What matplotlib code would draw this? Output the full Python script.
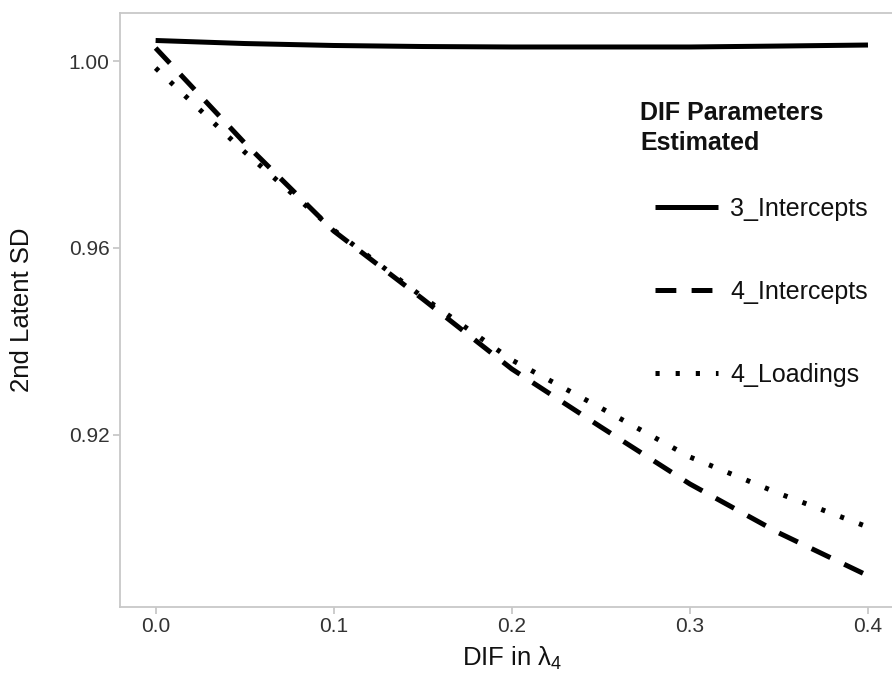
import matplotlib
matplotlib.use("Agg")
import matplotlib.pyplot as plt

plt.rcParams['font.family'] = ['Liberation Sans', 'DejaVu Sans']
plt.rcParams['lines.scale_dashes'] = False

dif = [0.0, 0.05, 0.10, 0.15, 0.20, 0.25, 0.30, 0.35, 0.40]
intercepts3 = [1.00439, 1.00374, 1.00332, 1.00310, 1.00300, 1.00300, 1.00300, 1.00320, 1.00342]
intercepts4 = [1.00278, 0.98246, 0.96364, 0.94909, 0.93412, 0.92171, 0.90952, 0.89904, 0.88990]
loadings4 = [0.99850, 0.98053, 0.96385, 0.94950, 0.93604, 0.92578, 0.91529, 0.90749, 0.90030]
series_labels = ['3_Intercepts', '4_Intercepts', '4_Loadings']
legend_title = 'DIF Parameters\nEstimated'
xticks = [0.0, 0.1, 0.2, 0.3, 0.4]
yticks = [0.92, 0.96, 1.00]

W, H = 892, 675
fig = plt.figure(figsize=(W / 100, H / 100), dpi=100)
left, right, top, bottom = 120, 903.6, 13, 607
ax = fig.add_axes([left / W, 1 - bottom / H, (right - left) / W, (bottom - top) / H])

lw = 3.6
ax.plot(dif, intercepts3, color='black', lw=lw, solid_capstyle='butt', label=series_labels[0])
ax.plot(dif, intercepts4, color='black', lw=lw, dashes=(15, 11), dash_capstyle='butt', label=series_labels[1])
ax.plot(dif, loadings4, color='black', lw=lw, dashes=(3, 11.5), dash_capstyle='butt', label=series_labels[2])

ax.set_xlim(-0.02, 0.42)
ax.set_ylim(0.8832, 1.01027)
ax.set_xticks(xticks)
ax.set_xticklabels([f"{v:.1f}" for v in xticks])
ax.set_yticks(yticks)
ax.set_yticklabels([f"{v:.2f}" for v in yticks])

grey = '#c8c8c8'
for s in ['left', 'bottom', 'top']:
    ax.spines[s].set_color(grey)
    ax.spines[s].set_linewidth(1.3)
ax.spines['right'].set_visible(False)
ax.tick_params(axis='both', colors=grey, length=5, width=1.3, labelsize=15, labelcolor='#333333', pad=2.5)

ax.set_xlabel(r'DIF in $\mathregular{\lambda_4}$', fontsize=18.5, color='#111111')
ax.set_ylabel('2nd Latent SD', fontsize=18.5, color='#111111')
ax.xaxis.set_label_coords(0.5, -(645 - bottom) / (bottom - top))
ax.yaxis.set_label_coords(-(left - 22) / (right - left), 0.5)
ax.yaxis.label.set_va('center')

fig.text(640 / W, 1 - 101 / H, legend_title, fontsize=18, fontweight='bold',
         color='#111111', ha='left', va='top', linespacing=1.3)

leg = ax.legend(loc='upper left',
                bbox_to_anchor=((655 - left) / (right - left), 1 - (196.5 - top) / (bottom - top)),
                frameon=False, fontsize=18,
                handlelength=2.52, handletextpad=0.48, labelspacing=2.36, borderpad=0,
                borderaxespad=0)
for t in leg.get_texts():
    t.set_color('#111111')

fig.savefig('out.png', dpi=100)
